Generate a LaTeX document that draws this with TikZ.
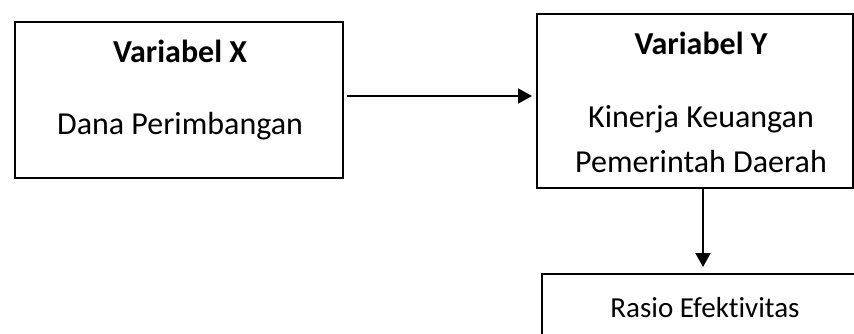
\documentclass[tikz,border=0pt]{standalone}
\usepackage{fontspec}
\setmainfont{Carlito}[Ligatures=NoCommon]
\usetikzlibrary{arrows.meta}
\tikzset{
	box/.style={draw, line width=2pt, inner sep=0pt}, % marcos de las variables
	title/.style={anchor=base, font=\bfseries\fontsize{32}{38}\selectfont},
	body/.style={anchor=base, font=\fontsize{32}{38}\selectfont},
	small/.style={anchor=base, font=\fontsize{29}{35}\selectfont},
	link/.style={line width=2pt, -{Triangle[length=14pt,width=15pt]}} % flechas
}

\begin{document}
\begin{tikzpicture}[x=1pt, y=-1pt]
	\useasboundingbox (0,0) rectangle (854,334);
	\clip (0,0) rectangle (854,334);
	% cajas
	\node[box, minimum width=328pt, minimum height=156pt] (X) at (179,100) {};
	\node[box, minimum width=316pt, minimum height=174pt] (Y) at (695,101) {};
	\node[box, minimum width=328pt, minimum height=90pt] (R) at (706,319) {};
	% textos
	\node[title] (tX) at (180,63) {Variabel X};
	\node[body] (dana) at (180,135) {Dana Perimbangan};
	\node[title] (tY) at (701,55) {Variabel Y};
	\node[body] (kinerja) at (701,128) {Kinerja Keuangan};
	\node[body] (pemda) at (701,172) {Pemerintah Daerah};
	\node[small] (rasio) at (705,317) {Rasio Efektivitas};
	% flechas
	\draw[link] ([xshift=3pt,yshift=4pt]X.east) -- ([xshift=-4pt,yshift=4pt]X.east -| Y.west);
	\draw[link] ([xshift=8pt]Y.south) -- ([xshift=8pt,yshift=6pt]Y.south |- R.north);
\end{tikzpicture}
\end{document}
